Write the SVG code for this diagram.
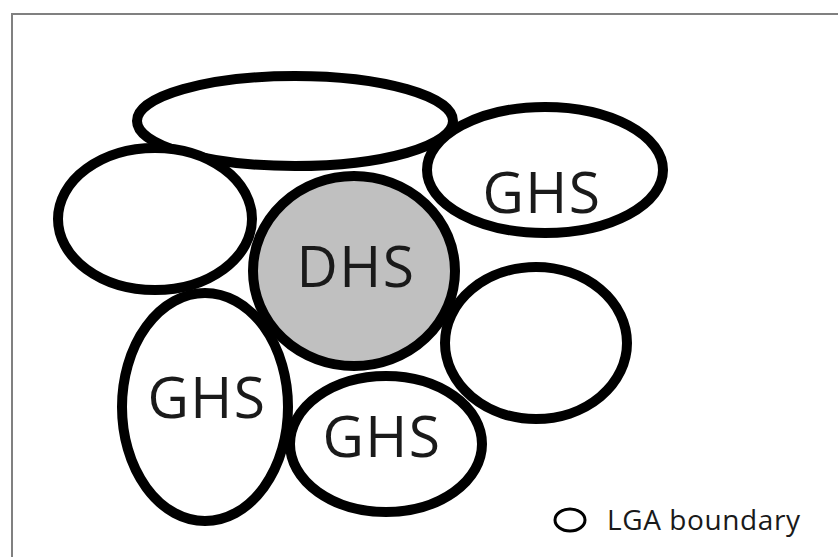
<svg xmlns="http://www.w3.org/2000/svg" width="838" height="557" viewBox="0 0 838 557">
<style>
.lga{fill:#ffffff;stroke:#000000;stroke-width:10}
.dhs{fill:#c0c0c0;stroke:#000000;stroke-width:10}
.lbl{font-family:"Open Sans","Noto Sans",sans-serif;font-size:57px;letter-spacing:1.5px;fill:#1a1a1a;text-anchor:middle}
.leg{font-family:"Open Sans","Noto Sans",sans-serif;font-size:28px;letter-spacing:0.6px;fill:#1a1a1a}
</style>
<rect x="0" y="0" width="838" height="557" fill="#ffffff"/>
<rect x="12" y="14" width="840" height="560" fill="none" stroke="#808080" stroke-width="2"/>
<g id="lga-top"><ellipse class="lga" cx="295" cy="121" rx="158" ry="45"/></g>
<g id="lga-left"><ellipse class="lga" cx="155" cy="219" rx="97" ry="71"/></g>
<g id="ghs-top-right"><ellipse class="lga" cx="545" cy="170" rx="118" ry="63"/><text class="lbl" x="542" y="213">GHS</text></g>
<g id="lga-right"><ellipse class="lga" cx="536" cy="343" rx="91" ry="76"/></g>
<g id="ghs-left"><ellipse class="lga" cx="205" cy="407" rx="83" ry="114"/><text class="lbl" x="207" y="418">GHS</text></g>
<g id="ghs-bottom"><ellipse class="lga" cx="386" cy="444" rx="96" ry="68"/><text class="lbl" x="382" y="457">GHS</text></g>
<g id="dhs"><ellipse class="dhs" cx="354" cy="271" rx="101" ry="95"/><text class="lbl" x="356" y="287">DHS</text></g>
<g id="connectors"></g>
<g id="legend"><ellipse cx="570" cy="520" rx="15" ry="11" fill="none" stroke="#000000" stroke-width="3"/><text class="leg" x="607" y="530">LGA boundary</text></g>
</svg>
